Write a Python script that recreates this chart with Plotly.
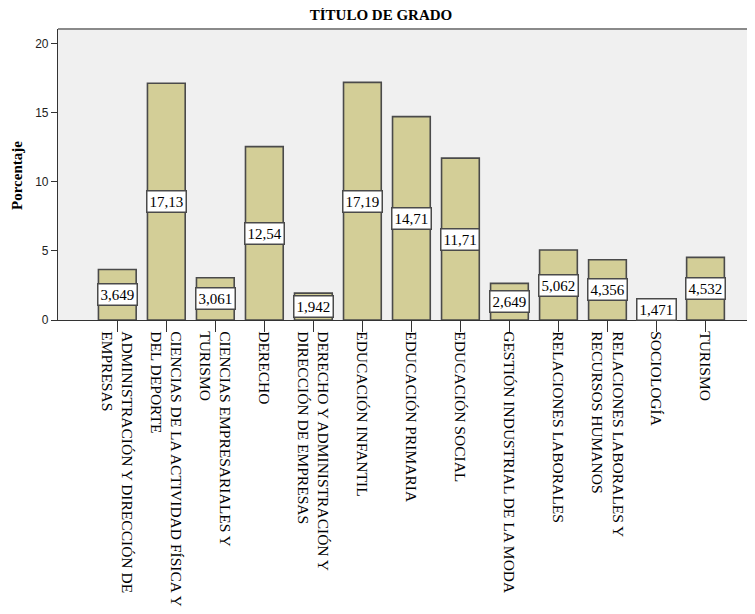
import plotly.graph_objects as go

categories = [
    "ADMINISTRACIÓN Y DIRECCIÓN DE<br>EMPRESAS",
    "CIENCIAS DE LA ACTIVIDAD FÍSICA Y<br>DEL DEPORTE",
    "CIENCIAS EMPRESARIALES Y<br>TURISMO",
    "DERECHO",
    "DERECHO Y ADMINISTRACIÓN Y<br>DIRECCIÓN DE EMPRESAS",
    "EDUCACIÓN INFANTIL",
    "EDUCACIÓN PRIMARIA",
    "EDUCACIÓN SOCIAL",
    "GESTIÓN INDUSTRIAL DE LA MODA",
    "RELACIONES LABORALES",
    "RELACIONES LABORALES Y<br>RECURSOS HUMANOS",
    "SOCIOLOGÍA",
    "TURISMO",
]
percentages = [3.649, 17.13, 3.061, 12.54, 1.942, 17.19, 14.71, 11.71,
               2.649, 5.062, 4.356, 1.471, 4.532]
y_ticks = [0, 5, 10, 15, 20]

title_text = "TÍTULO DE GRADO"
y_title = "Porcentaje"

labels = [f"{v:.4g}".replace(".", ",") for v in percentages]
xpos = list(range(len(categories)))

W, H = 747, 606

fig = go.Figure()
fig.add_trace(go.Bar(
    x=xpos, y=percentages, width=0.77,
    marker=dict(color="#D3CE97", line=dict(color="#4a4a4a", width=1.6)),
    hoverinfo="skip", showlegend=False,
))

for x, v, lab in zip(xpos, percentages, labels):
    fig.add_annotation(
        x=x, y=v / 2, xref="x", yref="y", text=lab, showarrow=False,
        font=dict(family="Liberation Serif", size=15, color="black"),
        bgcolor="white", bordercolor="#4a4a4a", borderwidth=1.5, borderpad=2,
    )

fig.add_annotation(
    x=0, y=0.495, xref="paper", yref="paper", xshift=-41, text=f"<b>{y_title}</b>",
    showarrow=False, textangle=-90, xanchor="center", yanchor="middle",
    font=dict(family="Liberation Serif", size=15, color="black"),
)

fig.add_shape(type="line", xref="paper", yref="paper", x0=0, x1=1, y0=1, y1=1,
              line=dict(color="#8a8a8a", width=2))

fig.update_layout(
    width=W, height=H,
    margin=dict(l=50, r=0, t=21, b=294, autoexpand=False),
    paper_bgcolor="white", plot_bgcolor="#F0F0F0",
    title=dict(text=f"<b>{title_text}</b>", x=373 / W, xref="container",
               y=1 - 7 / H, yref="container", xanchor="center", yanchor="middle",
               font=dict(family="Liberation Serif", size=15, color="black")),
)
fig.update_xaxes(
    range=[-1.21, 13.01], tickmode="array", tickvals=xpos, ticktext=categories,
    tickangle=90, ticks="outside", ticklen=11, tickcolor="#333", tickwidth=1.2,
    ticklabelstandoff=-4,
    tickfont=dict(family="Liberation Serif", size=15.5, color="black"),
    showline=True, linecolor="#333", linewidth=1.2, showgrid=False, zeroline=False,
    automargin=False,
)
fig.update_yaxes(
    range=[0, 21.05], tickmode="array", tickvals=y_ticks,
    ticks="outside", ticklen=6, tickcolor="#333", tickwidth=1.2,
    tickfont=dict(family="Liberation Sans", size=12, color="#222"),
    showline=True, linecolor="#333", linewidth=1.2, showgrid=False, zeroline=False,
    automargin=False,
)

fig.write_html("out.html")
